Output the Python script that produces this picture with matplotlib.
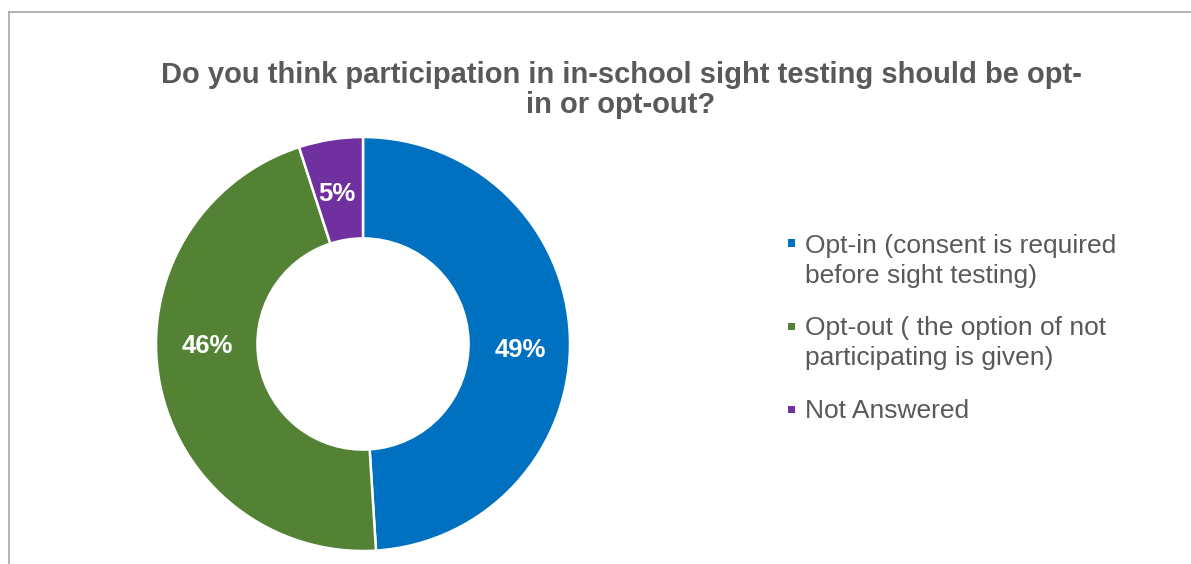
import matplotlib.pyplot as plt
from matplotlib.lines import Line2D
from matplotlib.patches import Rectangle

plt.rcParams['font.family'] = ['Liberation Sans', 'DejaVu Sans']

labels = ["Opt-in (consent is required\nbefore sight testing)",
          "Opt-out ( the option of not\nparticipating is given)",
          "Not Answered"]
shares = [49, 46, 5]
colors = ["#0070C0", "#548235", "#7030A0"]

W, H = 1191, 564
fig = plt.figure(figsize=(W / 100, H / 100), dpi=100)

def px(x, y):
    # pixel position (from top-left) -> figure fraction
    return x / W, 1 - y / H

# donut centred at (363, 344) px, outer radius ~207 px
cx, cy, r = 363, 344, 207
ax = fig.add_axes([(cx - r) / W, (H - cy - r) / H, 2 * r / W, 2 * r / H])
wedges, texts, autotexts = ax.pie(
    shares, colors=colors, startangle=90, counterclock=False,
    autopct=lambda p: f"{p:.0f}%", pctdistance=0.76,
    wedgeprops=dict(width=0.49, edgecolor="white", linewidth=1.8))
ax.set_xlim(-1, 1)
ax.set_ylim(-1, 1)
ax.set_aspect("auto")

# value labels sit a little off the wedge mid-angle
label_pos = [(0.758, -0.063), (-0.751, -0.043), (-0.126, 0.691)]
for t, pos in zip(autotexts, label_pos):
    t.set_position(pos)
    t.set_color("white")
    t.set_fontsize(18.5)
    t.set_fontweight("bold")
    t.set_verticalalignment("baseline")

title_lines = ["Do you think participation in in-school sight testing should be opt-",
               "in or opt-out?"]
for i, line in enumerate(title_lines):
    fig.text(*px(621, 83 + 30 * i), line, ha="center", va="baseline",
             fontsize=21, fontweight="bold", color="#595959")

# legend, laid out by hand
for i, (lab, c) in enumerate(zip(labels, colors)):
    top = 252.5 + 83 * i
    mx, my = px(787.5, top - 6)
    fig.add_artist(Rectangle((mx, my), 7 / W, 7 / H, transform=fig.transFigure,
                             facecolor=c, edgecolor="none"))
    for j, line in enumerate(lab.split("\n")):
        fig.text(*px(805, top + 30 * j), line, ha="left", va="baseline",
                 fontsize=19, color="#595959")

# chart border (left and top edges)
border = "#A6A6A6"
fig.add_artist(Line2D([8.5 / W, 8.5 / W], [0, 1 - 12 / H], transform=fig.transFigure,
                      color=border, linewidth=1.2))
fig.add_artist(Line2D([8.5 / W, 1], [1 - 12 / H, 1 - 12 / H], transform=fig.transFigure,
                      color=border, linewidth=1.2))

fig.savefig("out.png", dpi=100)
